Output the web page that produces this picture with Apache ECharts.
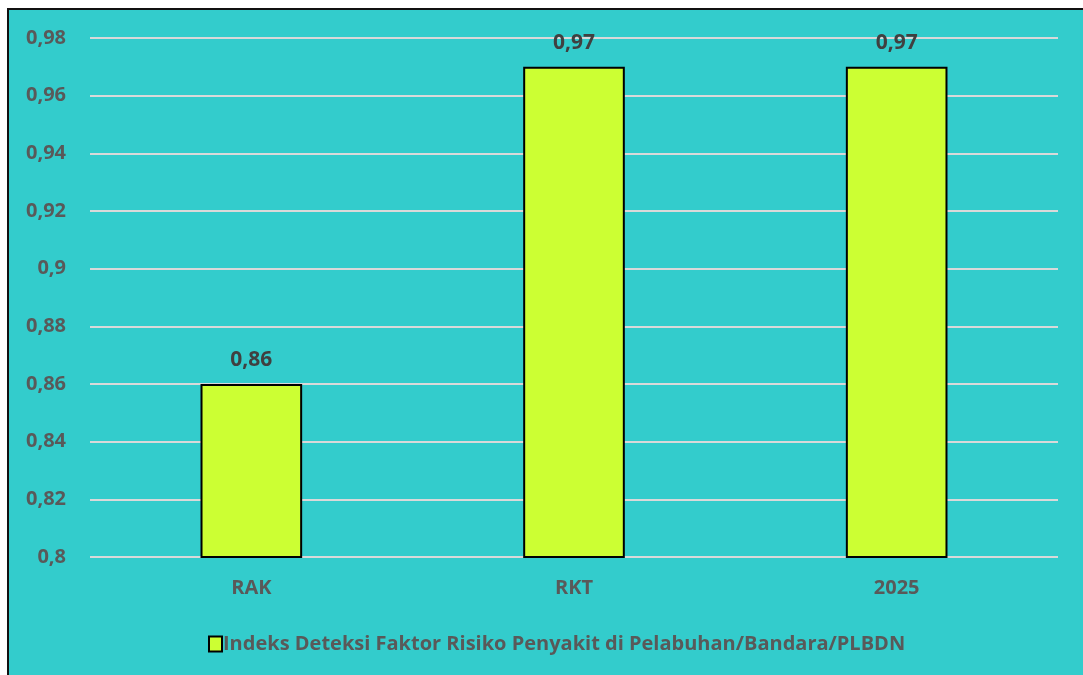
<!DOCTYPE html>
<html>
<head>
<meta charset="utf-8">
<script src="https://cdn.jsdelivr.net/npm/echarts@6/dist/echarts.min.js"></script>
<style>
html, body { margin:0; padding:0; background:#ffffff; width:1083px; height:675px; overflow:hidden; }
#box { position:absolute; left:7px; top:8px; width:1200px; height:800px; background:#33CCCC; border-left:2px solid #111; border-top:2px solid #111; }
#chart { position:absolute; left:0; top:0; width:1083px; height:675px; }
</style>
</head>
<body>
<div id="box"></div>
<div id="chart"></div>
<script>
const categories = ['RAK', 'RKT', '2025'];
const seriesName = 'Indeks Deteksi Faktor Risiko Penyakit di Pelabuhan/Bandara/PLBDN';
const values = [0.86, 0.97, 0.97];
const yMin = 0.8, yMax = 0.98, yInterval = 0.02;

function fmt(v) { return String(parseFloat(Number(v).toFixed(2))).replace('.', ','); }

const chart = echarts.init(document.getElementById('chart'), null, { renderer: 'canvas' });
chart.setOption({
  backgroundColor: 'transparent',
  animation: false,
  textStyle: { fontFamily: 'Open Sans' },
  grid: { left: 90, right: 25, top: 38, bottom: 118, containLabel: false },
  legend: {
    left: 203, top: 629,
    icon: 'rect',
    itemWidth: 13, itemHeight: 15, itemGap: 10,
    textStyle: { color: '#595959', fontSize: 20, fontWeight: 'bold', fontFamily: 'Open Sans', padding: [0,0,0,-4] },
    data: [seriesName]
  },
  xAxis: {
    type: 'category', data: categories,
    axisLine: { show: false }, axisTick: { show: false },
    axisLabel: { color: '#595959', fontSize: 20, fontWeight: 'bold', margin: 21 }
  },
  yAxis: {
    type: 'value', min: yMin, max: yMax, interval: yInterval,
    axisLine: { show: false }, axisTick: { show: false },
    axisLabel: { color: '#595959', fontSize: 20, fontWeight: 'bold', margin: 24, formatter: fmt },
    splitLine: { lineStyle: { color: '#D9D9D9', width: 2 } }
  },
  series: [{
    name: seriesName, type: 'bar', data: values, barWidth: '31.5%',
    itemStyle: { color: '#CCFF33', borderColor: '#000000', borderWidth: 2 },
    label: { show: true, position: 'top', distance: 13, color: '#404040', fontSize: 21, fontWeight: 'bold', formatter: p => fmt(p.value) }
  }]
});
</script>
</body>
</html>
